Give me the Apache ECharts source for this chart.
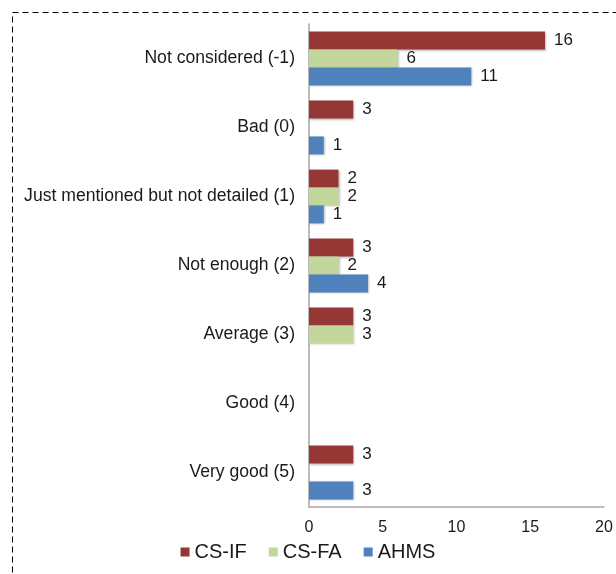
<!DOCTYPE html>
<html>
<head>
<meta charset="utf-8">
<script src="https://cdn.jsdelivr.net/npm/echarts@6/dist/echarts.min.js"></script>
<style>
  html, body { margin: 0; padding: 0; background: #fff; }
  #chart { width: 616px; height: 574px; }
</style>
</head>
<body>
<div id="chart"></div>
<script>
var categories = ['Not considered (-1)', 'Bad (0)', 'Just mentioned but not detailed (1)', 'Not enough (2)', 'Average (3)', 'Good (4)', 'Very good (5)'];
var csIF = [16, 3, 2, 3, 3, 0, 3];
var csFA = [6, 0, 2, 2, 3, 0, 0];
var ahms = [11, 1, 1, 4, 0, 0, 3];
var xTicks = [0, 5, 10, 15, 20];

var colors = ['#953735', '#C3D69B', '#4F81BD'];

function mkSeries(name, data, color) {
    return {
        name: name,
        type: 'bar',
        data: data,
        barGap: '0%',
        barCategoryGap: '22%',
        itemStyle: {
            color: color,
            shadowBlur: 2,
            shadowOffsetX: 1,
            shadowOffsetY: 1,
            shadowColor: 'rgba(0,0,0,0.25)'
        },
        label: {
            show: true,
            position: 'right',
            distance: 9,
            color: '#1a1a1a',
            fontSize: 17,
            fontFamily: 'Liberation Sans',
            // zero bars get no label
            formatter: function (p) { return p.value ? p.value : ''; }
        }
    };
}

var myChart = echarts.init(document.getElementById('chart'));
myChart.setOption({
    animation: false,
    color: colors,
    graphic: [{
        type: 'rect',
        shape: { x: 12.5, y: 12.5, width: 640, height: 600 },
        style: { fill: 'none', stroke: '#000', lineWidth: 1, lineDash: [6, 4] },
        silent: true
    }],
    grid: { left: 309, right: 12, top: 24, bottom: 67, containLabel: false },
    legend: {
        bottom: 7,
        left: 'center',
        itemWidth: 9,
        itemHeight: 9,
        itemGap: 22,
        icon: 'rect',
        textStyle: { fontSize: 20, color: '#1a1a1a', fontFamily: 'Liberation Sans' },
        data: ['CS-IF', 'CS-FA', 'AHMS']
    },
    xAxis: {
        type: 'value',
        min: xTicks[0],
        max: xTicks[xTicks.length - 1],
        interval: 5,
        splitLine: { show: false },
        axisLine: { show: true, lineStyle: { color: '#a6a6a6', width: 1.5 } },
        axisTick: { show: false },
        axisLabel: { fontSize: 16, color: '#1a1a1a', margin: 13, fontFamily: 'Liberation Sans' }
    },
    yAxis: {
        type: 'category',
        inverse: true,
        data: categories,
        axisLine: { show: true, lineStyle: { color: '#a6a6a6', width: 1.5 } },
        axisTick: { show: false },
        axisLabel: { fontSize: 17.6, color: '#1a1a1a', margin: 14, fontFamily: 'Liberation Sans' }
    },
    series: [
        mkSeries('CS-IF', csIF, colors[0]),
        mkSeries('CS-FA', csFA, colors[1]),
        mkSeries('AHMS', ahms, colors[2])
    ]
});
</script>
</body>
</html>
